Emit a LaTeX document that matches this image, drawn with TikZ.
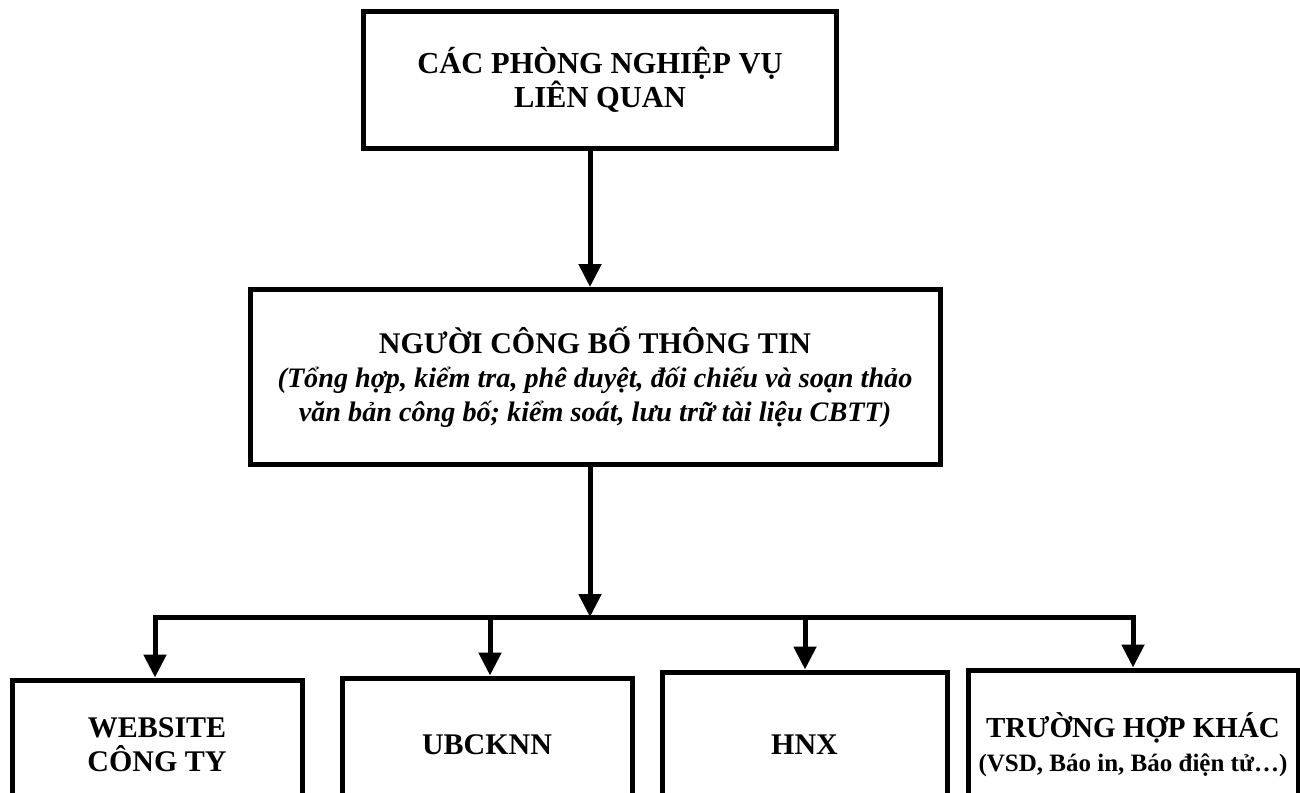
\documentclass[tikz,border=0pt]{standalone}
\usepackage{fontspec}
\setmainfont{Liberation Serif}
\usetikzlibrary{arrows.meta}
\begin{document}
\begin{tikzpicture}[x=1pt,y=-1pt,
  box/.style={draw=black,line width=5pt,fill=white,inner sep=0pt,align=center,font=\bfseries\fontsize{30}{34}\selectfont},
  conn/.style={line width=5pt,draw=black},
  arr/.style={conn,-{Triangle[width=22pt,length=23pt]}}]
\useasboundingbox (0,0) rectangle (1300,792);
\clip (0,0) rectangle (1300,792);
\fill[white] (0,0) rectangle (1300,792);
\node[box,minimum width=473pt,minimum height=136pt,font=\bfseries\fontsize{30.5}{34}\selectfont] (top) at (600,80) {CÁC PHÒNG NGHIỆP VỤ\\LIÊN QUAN};
\node[box,minimum width=690pt,minimum height=175pt] (mid) at (595,377)
  {NGƯỜI CÔNG BỐ THÔNG TIN\\[0pt]{\itshape\fontsize{28.2}{31}\selectfont (Tổng hợp, kiểm tra, phê duyệt, đối chiếu và soạn thảo}\\{\itshape\fontsize{28.2}{31}\selectfont văn bản công bố; kiểm soát, lưu trữ tài liệu CBTT)}};
\node[box,minimum width=290pt,minimum height=130pt] (b1) at (157,745) {WEBSITE\\CÔNG TY};
\node[box,minimum width=290pt,minimum height=134pt] (b2) at (487,745) {UBCKNN};
\node[box,minimum width=285pt,minimum height=146pt] (b3) at (804.5,745) {HNX};
\node[box,minimum width=330pt,minimum height=150pt] (b4) at (1133,745) {\fontsize{29}{33}\selectfont TRƯỜNG HỢP KHÁC\\{\fontsize{25}{29}\selectfont (VSD, Báo in, Báo điện tử…)}};
\coordinate (hub) at (590,617);
\coordinate (h1) at (155,617);
\coordinate (h2) at (490,617);
\coordinate (h3) at (805,617);
\coordinate (h4) at (1133,617);
\draw[arr] (top.south -| hub) -- (mid.north -| hub);
\draw[arr] (mid.south -| hub) -- (hub);
\draw[conn,line cap=rect] (h1) -- (h4);
\draw[arr] (h1) -- (b1.north -| h1);
\draw[arr] (h2) -- (b2.north -| h2);
\draw[arr] (h3) -- (b3.north -| h3);
\draw[arr] (h4) -- (b4.north -| h4);
\end{tikzpicture}
\end{document}
